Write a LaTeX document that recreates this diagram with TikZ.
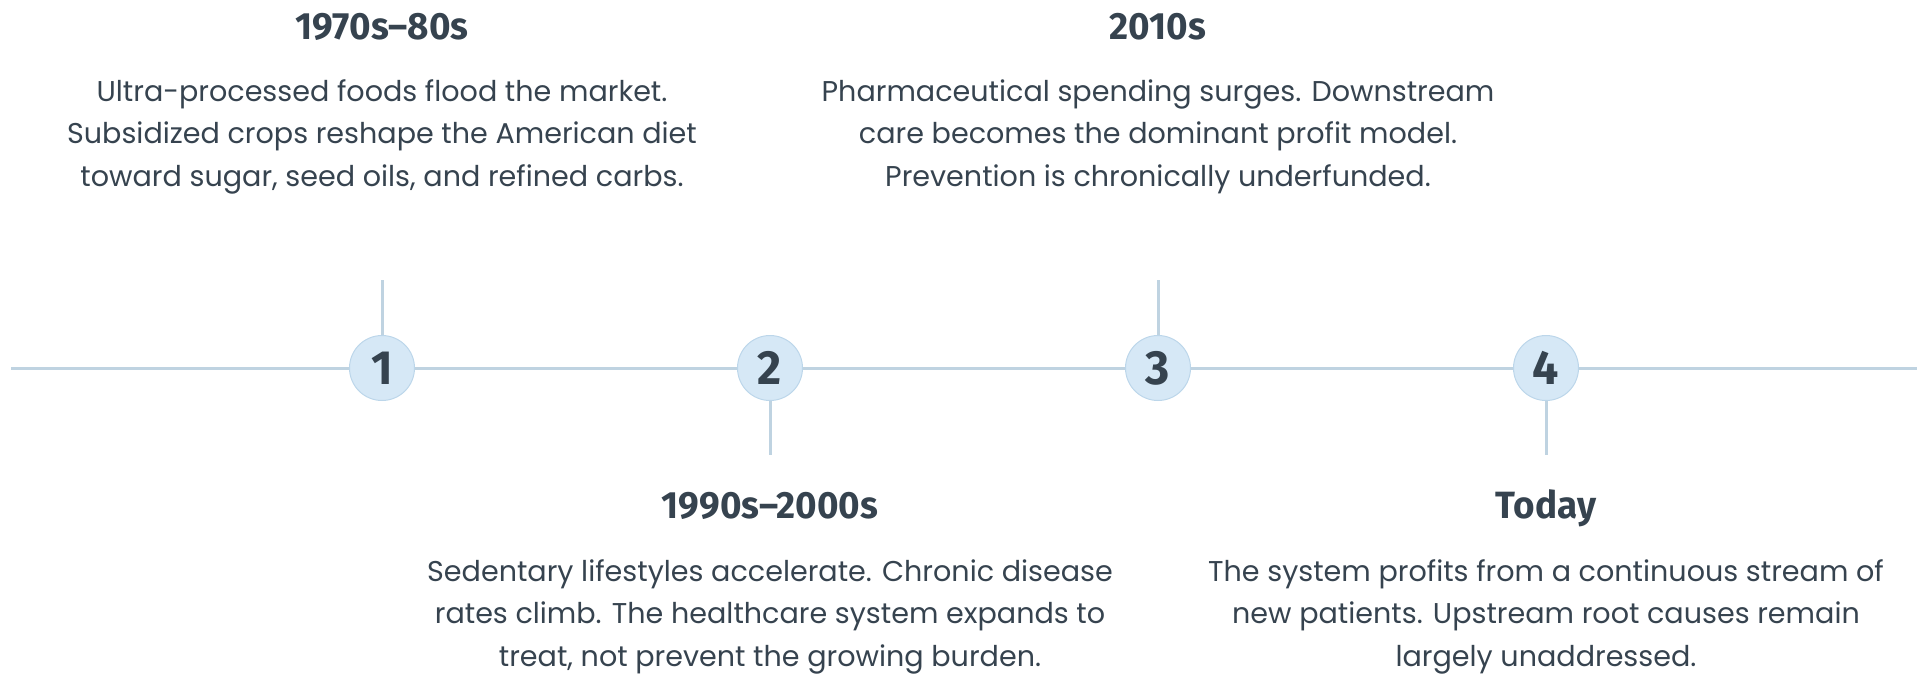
\documentclass[tikz,border=0pt]{standalone}
\usepackage{fontspec}
\setmainfont{Poppins}
\newfontfamily\headfont[FakeStretch=0.97]{Fira Sans}

\definecolor{ink}{HTML}{36434F}
\definecolor{rule}{HTML}{BFD3E1}
\definecolor{dotfill}{HTML}{D6E8F6}
\definecolor{dotedge}{HTML}{BCD6EA}

\begin{document}
\begin{tikzpicture}[x=1pt,y=-1pt,
    every node/.style={inner sep=0pt},
    axis/.style={draw=rule,line width=3pt},
    dot/.style={circle,fill=dotfill,draw=dotedge,line width=1pt,minimum size=65pt,
                text=ink,font=\headfont\bfseries\fontsize{48}{48}\selectfont},
    era/.style={anchor=base,text=ink,font=\headfont\bfseries\fontsize{38}{38}\selectfont},
    blurb/.style={anchor=base,align=center,text=ink,font=\fontsize{28.6}{42.5}\selectfont}]
    \useasboundingbox (0,0) rectangle (1927,673);

    % timeline axis and stem ends
    \coordinate (axisL) at (11,368);
    \coordinate (axisR) at (1917,368);
    \coordinate (t1) at (382,280);
    \coordinate (t2) at (770,455);
    \coordinate (t3) at (1158,280);
    \coordinate (t4) at (1546,455);
    \draw [axis] (axisL) -- (axisR);

    % numbered markers
    \node [dot] (c1) at (382,368) {1};
    \node [dot] (c2) at (770,368) {2};
    \node [dot] (c3) at (1158,368) {3};
    \node [dot] (c4) at (1546,368) {4};
    \draw [axis] (c1) -- (t1);
    \draw [axis] (c2) -- (t2);
    \draw [axis] (c3) -- (t3);
    \draw [axis] (c4) -- (t4);

    % upper labels (blurb sits on its last baseline)
    \node [era] (h1) at (382,39) {1970s–80s};
    \node [blurb] (b1) at (382,186) {Ultra-processed foods flood the market.\\Subsidized crops reshape the American diet\\toward sugar, seed oils, and refined carbs.};
    \node [era] (h3) at (1158,39) {2010s};
    \node [blurb] (b3) at (1158,186) {Pharmaceutical spending surges. Downstream\\care becomes the dominant profit model.\\Prevention is chronically underfunded.};

    % lower labels
    \node [era] (h2) at (770,518) {1990s–2000s};
    \node [blurb] (b2) at (770,666) {Sedentary lifestyles accelerate. Chronic disease\\rates climb. The healthcare system expands to\\treat, not prevent the growing burden.};
    \node [era] (h4) at (1546,518) {Today};
    \node [blurb] (b4) at (1546,666) {The system profits from a continuous stream of\\new patients. Upstream root causes remain\\largely unaddressed.};
\end{tikzpicture}
\end{document}
